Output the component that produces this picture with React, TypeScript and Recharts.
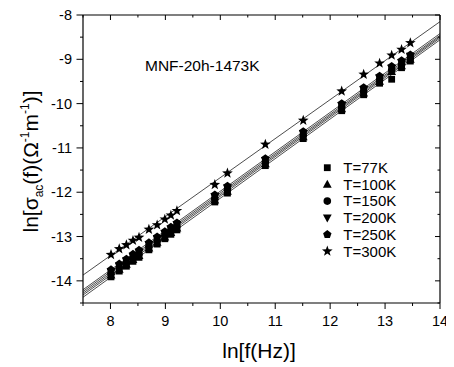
import React from "react";
import { ScatterChart, Scatter, XAxis, YAxis, ReferenceLine, Customized } from "recharts";

// ln f values of the measured frequencies
const lnF = [8.01, 8.16, 8.29, 8.41, 8.52, 8.7, 8.85, 8.99, 9.1, 9.21, 9.9, 10.13, 10.82, 11.51, 12.21, 12.61, 12.9, 13.12, 13.3, 13.46];

const t77 = [-13.91, -13.78, -13.67, -13.56, -13.47, -13.3, -13.17, -13.05, -12.95, -12.85, -12.22, -12.02, -11.4, -10.79, -10.16, -9.8, -9.54, -9.45, -9.19, -9.04];
const t100 = [-13.87, -13.74, -13.63, -13.52, -13.43, -13.26, -13.13, -13.01, -12.91, -12.81, -12.18, -11.98, -11.36, -10.75, -10.12, -9.76, -9.5, -9.28, -9.15, -9.0];
const t150 = [-13.83, -13.7, -13.59, -13.48, -13.39, -13.22, -13.09, -12.97, -12.87, -12.77, -12.14, -11.94, -11.32, -10.71, -10.08, -9.72, -9.46, -9.24, -9.11, -8.97];
const t200 = [-13.79, -13.66, -13.55, -13.44, -13.35, -13.18, -13.05, -12.93, -12.83, -12.73, -12.1, -11.9, -11.28, -10.67, -10.04, -9.68, -9.42, -9.2, -9.07, -8.93];
const t250 = [-13.75, -13.62, -13.51, -13.4, -13.31, -13.14, -13.01, -12.89, -12.79, -12.69, -12.06, -11.86, -11.24, -10.63, -10.0, -9.64, -9.38, -9.16, -9.03, -8.9];
const t300 = [-13.41, -13.28, -13.19, -13.09, -13.02, -12.84, -12.74, -12.61, -12.52, -12.42, -11.83, -11.57, -10.92, -10.38, -9.72, -9.34, -9.09, -8.91, -8.78, -8.63];

const seriesNames = ["T=77K", "T=100K", "T=150K", "T=200K", "T=250K", "T=300K"];
const seriesValues = [t77, t100, t150, t200, t250, t300];
const markerKinds = ["square", "triangle", "circle", "down", "pentagon", "star"];

// linear fits, read at the two ends of the x range
const fitX = [7.5, 14];
const fitStart = [-14.37, -14.32, -14.28, -14.24, -14.2, -13.87];
const fitEnd = [-8.56, -8.52, -8.49, -8.46, -8.42, -8.15];

const xTicks = [7.5, 8, 8.5, 9, 9.5, 10, 10.5, 11, 11.5, 12, 12.5, 13, 13.5, 14];
const yTicks = [-14.5, -14, -13.5, -13, -12.5, -12, -11.5, -11, -10.5, -10, -9.5, -9, -8.5, -8];

const FONT = "Arial, 'Liberation Sans', sans-serif";
const INK = "#000";

const polyPoints = (cx: number, cy: number, n: number, r: number, rot: number, inner?: number) => {
  const pts: string[] = [];
  const count = inner ? n * 2 : n;
  for (let i = 0; i < count; i++) {
    const rr = inner && i % 2 === 1 ? inner : r;
    const a = rot + (i * 2 * Math.PI) / count;
    pts.push(`${cx + rr * Math.cos(a)},${cy + rr * Math.sin(a)}`);
  }
  return pts.join(" ");
};

const Marker = ({ cx, cy, kind }: { cx: number; cy: number; kind: string }) => {
  if (cx == null || cy == null) return <g />;
  switch (kind) {
    case "square":
      return <rect x={cx - 3.4} y={cy - 3.4} width={6.8} height={6.8} fill={INK} />;
    case "triangle":
      return <polygon points={`${cx},${cy - 4.6} ${cx + 4.4},${cy + 3.4} ${cx - 4.4},${cy + 3.4}`} fill={INK} />;
    case "circle":
      return <circle cx={cx} cy={cy} r={3.8} fill={INK} />;
    case "down":
      return <polygon points={`${cx},${cy + 4.6} ${cx + 4.4},${cy - 3.4} ${cx - 4.4},${cy - 3.4}`} fill={INK} />;
    case "pentagon":
      return <polygon points={polyPoints(cx, cy, 5, 4.4, -Math.PI / 2)} fill={INK} />;
    default:
      return <polygon points={polyPoints(cx, cy, 5, 5.6, -Math.PI / 2, 2.3)} fill={INK} />;
  }
};

const BottomTick = ({ x, y, payload }: any) => {
  const v = payload.value;
  const major = Number.isInteger(v);
  return (
    <g>
      <line x1={x} y1={y} x2={x} y2={y + (major ? 6 : 3)} stroke={INK} strokeWidth={1} />
      {major && (
        <text x={x} y={y + 23} textAnchor="middle" fontSize={14.5} fontFamily={FONT} fill={INK}>
          {v}
        </text>
      )}
    </g>
  );
};

const TopTick = ({ x, y, payload }: any) => {
  const major = Number.isInteger(payload.value);
  return <line x1={x} y1={y} x2={x} y2={y + (major ? 5 : 2.5)} stroke={INK} strokeWidth={1} />;
};

const LeftTick = ({ x, y, payload }: any) => {
  const v = payload.value;
  const major = Number.isInteger(v);
  return (
    <g>
      <line x1={x - (major ? 6.5 : 3)} y1={y} x2={x} y2={y} stroke={INK} strokeWidth={1} />
      {major && (
        <text x={x - 11} y={y + 5} textAnchor="end" fontSize={14.5} fontFamily={FONT} fill={INK}>
          {v}
        </text>
      )}
    </g>
  );
};

const RightTick = ({ x, y, payload }: any) => {
  const major = Number.isInteger(payload.value);
  return <line x1={x - (major ? 5 : 2.5)} y1={y} x2={x} y2={y} stroke={INK} strokeWidth={1} />;
};

const Decorations = () => (
  <g fontFamily={FONT} fill={INK}>
    <text x={137} y={62.5} fontSize={15.5}>
      MNF-20h-1473K
    </text>
    <text x={251} y={350} textAnchor="middle" fontSize={21}>
      ln[f(Hz)]
    </text>
    <text transform="translate(30,153.5) rotate(-90)" textAnchor="middle" fontSize={21}>
      ln[σ
      <tspan fontSize={12} dy={5}>ac</tspan>
      <tspan dy={-5}>(f)(Ω</tspan>
      <tspan fontSize={12} dy={-9}>-1</tspan>
      <tspan dy={9}>m</tspan>
      <tspan fontSize={12} dy={-9}>-1</tspan>
      <tspan dy={9}>)]</tspan>
    </text>
    {seriesNames.map((name, i) => (
      <g key={name}>
        <Marker cx={319.3} cy={159.7 + i * 16.7} kind={markerKinds[i]} />
        <text x={335.3} y={165 + i * 16.7} fontSize={15}>
          {name}
        </text>
      </g>
    ))}
  </g>
);

export default function App() {
  return (
    <ScatterChart width={446} height={359} margin={{ top: 6, right: 13, bottom: 0, left: 0 }}>
      <XAxis
        xAxisId="b"
        dataKey="x"
        type="number"
        domain={[7.5, 14]}
        ticks={xTicks}
        interval={0}
        allowDataOverflow
        height={64}
        tickSize={0}
        tickMargin={0}
        tickLine={false}
        axisLine={{ stroke: INK, strokeWidth: 1.2 }}
        tick={BottomTick}
      />
      <XAxis
        xAxisId="t"
        dataKey="x"
        orientation="top"
        type="number"
        domain={[7.5, 14]}
        ticks={xTicks}
        interval={0}
        allowDataOverflow
        height={1}
        tickSize={0}
        tickMargin={0}
        tickLine={false}
        axisLine={{ stroke: INK, strokeWidth: 1.2 }}
        tick={TopTick}
      />
      <YAxis
        yAxisId="l"
        dataKey="y"
        type="number"
        domain={[-14.5, -8]}
        ticks={yTicks}
        interval={0}
        allowDataOverflow
        width={75}
        tickSize={0}
        tickMargin={0}
        tickLine={false}
        axisLine={{ stroke: INK, strokeWidth: 1.2 }}
        tick={LeftTick}
      />
      <YAxis
        yAxisId="r"
        dataKey="y"
        orientation="right"
        type="number"
        domain={[-14.5, -8]}
        ticks={yTicks}
        interval={0}
        allowDataOverflow
        width={1}
        tickSize={0}
        tickMargin={0}
        tickLine={false}
        axisLine={{ stroke: INK, strokeWidth: 1.2 }}
        tick={RightTick}
      />
      {/* invisible series that keeps the top and right frame axes alive */}
      <Scatter
        xAxisId="t"
        yAxisId="r"
        data={lnF.map((x, j) => ({ x, y: t300[j] }))}
        isAnimationActive={false}
        shape={() => <g />}
        legendType="none"
      />
      {fitStart.map((y0, i) => (
        <ReferenceLine
          key={`fit-${i}`}
          xAxisId="b"
          yAxisId="l"
          segment={[
            { x: fitX[0], y: y0 },
            { x: fitX[1], y: fitEnd[i] },
          ]}
          stroke={INK}
          strokeWidth={0.7}
        />
      ))}
      {seriesValues.map((vals, i) => (
        <Scatter
          key={seriesNames[i]}
          name={seriesNames[i]}
          xAxisId="b"
          yAxisId="l"
          data={lnF.map((x, j) => ({ x, y: vals[j] }))}
          isAnimationActive={false}
          shape={(p: any) => <Marker cx={p.cx} cy={p.cy} kind={markerKinds[i]} />}
        />
      ))}
      <Customized component={Decorations} />
    </ScatterChart>
  );
}
